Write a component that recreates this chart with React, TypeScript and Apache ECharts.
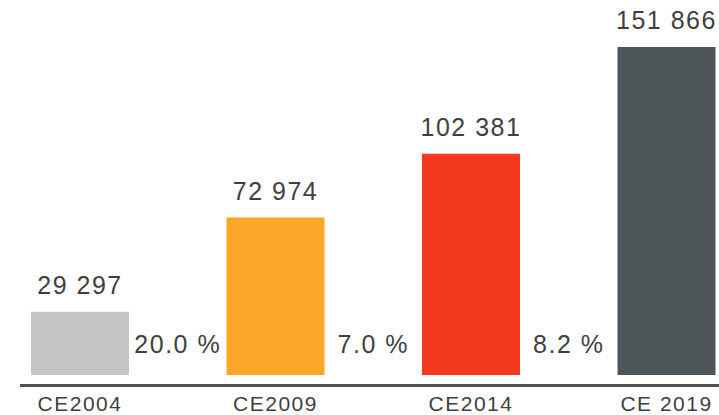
import React, { useEffect, useRef } from "react";
import * as echarts from "echarts";

const categories = ["CE2004", "CE2009", "CE2014", "CE 2019"];
const values = [29297, 72974, 102381, 151866];
const barColors = ["#c5c5c5", "#fca72a", "#f5391e", "#4f5659"];
const growthLabels = ["20.0 %", "7.0 %", "8.2 %"];
const growthPositions = [0.5, 1.5, 2.5];
const growthLabelLevel = 14400;

const FONT = "'Liberation Sans', Arial, Helvetica, sans-serif";
const TEXT = "#3f3f3f";

function fmt(v: number): string {
  return String(v).replace(/\B(?=(\d{3})+(?!\d))/g, " ");
}

export default function App() {
  const ref = useRef<HTMLDivElement>(null);
  useEffect(() => {
    if (!ref.current) return;
    const chart = echarts.init(ref.current, null, { renderer: "svg" });
    chart.setOption({
      animation: false,
      grid: { left: 80, right: 52.5, top: 29.4, bottom: 40, containLabel: false },
      xAxis: [
        {
          type: "category",
          data: categories,
          boundaryGap: false,
          offset: 10,
          axisLine: { show: false },
          axisTick: { show: false },
          splitLine: { show: false },
          axisLabel: { color: TEXT, fontFamily: FONT, fontSize: 21, margin: 8 },
        },
        {
          type: "value",
          min: 0,
          max: 3,
          show: false,
          splitLine: { show: false },
        },
      ],
      yAxis: {
        type: "value",
        min: 0,
        max: 160000,
        show: false,
        splitLine: { show: false },
      },
      series: [
        {
          type: "bar",
          xAxisIndex: 0,
          barWidth: 98,
          data: values.map((v, i) => ({ value: v, itemStyle: { color: barColors[i] } })),
          label: {
            show: true,
            position: "top",
            distance: 14,
            color: TEXT,
            fontFamily: FONT,
            fontSize: 25,
            formatter: (p: any) => fmt(p.value),
          },
        },
        {
          type: "scatter",
          xAxisIndex: 1,
          symbolSize: 0,
          itemStyle: { opacity: 1 },
          data: growthPositions.map((x, i) => ({ value: [x, growthLabelLevel], name: growthLabels[i] })),
          label: {
            show: true,
            position: "inside",
            color: TEXT,
            opacity: 1,
            fontFamily: FONT,
            fontSize: 25,
            formatter: (p: any) => p.name,
          },
        },
      ],
      graphic: [
        {
          type: "line",
          shape: { x1: 20, y1: 385.5, x2: 719, y2: 385.5 },
          style: { stroke: "#505050", lineWidth: 3 },
          silent: true,
        },
      ],
    });
    return () => chart.dispose();
  }, []);
  return (
    <div
      ref={ref}
      style={{ position: "fixed", left: 0, top: 0, width: 719, height: 415, letterSpacing: "1.5px", background: "#fff" }}
    />
  );
}
